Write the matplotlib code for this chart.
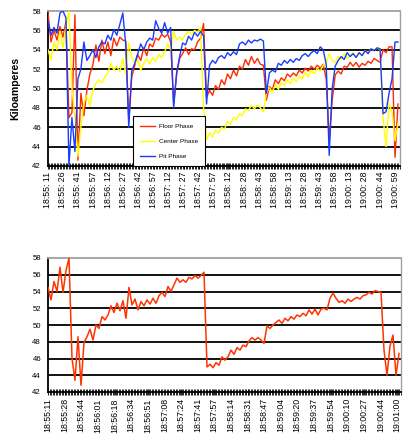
import numpy as np
import matplotlib
matplotlib.use("Agg")
import matplotlib.pyplot as plt
from matplotlib.ticker import MultipleLocator

plt.rcParams["font.family"] = ["Liberation Sans", "DejaVu Sans"]

# samples every 3 s, starting 18:55:11
step = 3

floor_phase = [57.8, 54.8, 56.0, 55.0, 56.4, 55.3, 56.9, 47.0, 47.5, 57.6,
               42.6, 49.5, 47.2, 49.8, 51.5, 52.4, 54.5, 52.8, 55.0, 53.6,
               54.8, 53.4, 55.2, 54.4, 55.3, 55.0, 54.9, 46.7, 51.2, 52.4,
               53.5, 52.9, 54.2, 53.4, 54.6, 54.3, 55.2, 55.0, 55.6, 55.3,
               55.6, 54.8, 48.4, 51.5, 53.1, 53.6, 54.2, 53.5, 54.1, 54.0,
               54.8, 55.2, 56.7, 49.1, 49.8, 49.3, 50.3, 49.9, 50.9, 50.4,
               51.5, 51.0, 51.9, 51.3, 52.3, 52.0, 53.0, 52.4, 53.3, 52.6,
               53.1, 52.5, 52.4, 48.8, 50.2, 49.9, 50.9, 50.5, 51.1, 50.8,
               51.5, 51.2, 51.6, 51.3, 51.9, 51.6, 52.1, 51.8, 52.3, 52.0,
               52.4, 52.1, 52.5, 51.0, 44.7, 48.8, 51.4, 51.8, 51.5, 52.3,
               52.2, 52.7, 52.3, 52.7, 52.2, 52.6, 52.4, 52.8, 52.6, 53.1,
               52.9, 52.7, 54.0, 53.7, 54.3, 54.3, 42.9, 48.4]

center_phase = [54.0, 52.9, 54.8, 54.0, 55.9, 54.2, 56.4, 58.0, 50.0, 47.0,
                43.0, 46.0, 48.5, 49.3, 48.2, 49.8, 50.5, 50.9, 50.6, 51.2,
                51.6, 52.6, 51.9, 52.3, 51.7, 53.1, 51.5, 54.7, 53.2, 52.6,
                52.9, 51.9, 52.6, 53.1, 52.5, 53.2, 52.8, 53.5, 53.2, 53.8,
                54.6, 54.0, 55.9, 55.0, 55.3, 55.0, 55.6, 55.9, 55.6, 56.0,
                55.8, 56.3, 48.0, 44.7, 45.4, 45.0, 45.7, 45.4, 46.0, 45.8,
                46.6, 46.3, 47.0, 46.8, 47.4, 47.2, 47.9, 47.7, 48.3, 47.9,
                48.3, 48.0, 47.6, 49.5, 50.1, 49.6, 50.4, 49.9, 50.6, 50.3,
                50.9, 50.5, 51.1, 50.7, 51.3, 51.0, 51.7, 51.2, 51.9, 51.5,
                52.1, 51.8, 52.4, 52.6, 53.6, 52.9, 52.7, 53.3, 53.0, 53.6,
                53.1, 53.4, 53.7, 53.2, 53.6, 53.4, 53.9, 53.7, 54.1, 53.9,
                54.2, 54.0, 47.0, 44.0, 48.5, 47.6, 44.6, 46.4]

pit_phase = [57.0, 55.5, 56.3, 55.7, 57.8, 58.0, 57.3, 42.0, 47.0, 43.5,
             51.0, 52.0, 54.8, 52.9, 53.4, 54.0, 53.2, 54.3, 54.8, 54.6,
             55.5, 55.0, 56.1, 55.5, 56.6, 57.8, 54.5, 46.0, 51.8, 52.6,
             53.6, 54.6, 54.0, 54.8, 55.2, 55.0, 57.0, 56.2, 55.7, 56.8,
             55.7, 56.3, 48.0, 51.6, 53.3, 54.7, 54.5, 55.4, 55.0, 55.8,
             55.4, 55.9, 55.4, 48.4, 52.4, 52.9, 52.6, 53.2, 53.4, 53.1,
             53.7, 53.4, 53.8, 53.5, 54.6, 54.8, 54.5, 55.0, 54.7, 55.0,
             54.9, 55.1, 54.9, 49.5, 51.6, 51.9, 51.7, 52.6, 52.4, 52.9,
             52.6, 53.0, 52.7, 53.1, 52.9, 53.4, 53.6, 53.3, 53.7, 53.9,
             53.6, 54.3, 54.0, 52.5, 43.1, 50.0, 52.3, 52.9, 53.3, 53.0,
             53.7, 53.3, 53.6, 53.2, 53.7, 53.4, 53.9, 53.6, 54.1, 53.9,
             54.2, 54.1, 47.4, 47.6, 49.5, 51.0, 54.8, 54.8]

lower_series = [54.5, 53.0, 55.2, 54.0, 56.9, 53.9, 56.5, 58.0, 46.0, 43.4,
                48.6, 42.8, 47.9, 48.6, 49.5, 48.2, 50.0, 49.6, 51.0, 50.6,
                51.2, 52.3, 51.5, 52.6, 51.7, 52.9, 50.8, 54.5, 52.4, 53.1,
                51.8, 52.8, 52.3, 53.0, 52.5, 53.2, 52.6, 53.5, 53.9, 53.4,
                54.6, 54.0, 54.8, 55.6, 55.1, 55.4, 55.1, 55.7, 55.5, 55.9,
                55.6, 55.9, 56.3, 45.0, 45.3, 44.9, 45.5, 45.2, 46.2, 45.8,
                46.2, 47.0, 46.5, 47.3, 47.0, 47.6, 47.4, 48.1, 48.5, 48.2,
                48.5, 48.2, 47.8, 49.9, 49.6, 50.0, 50.3, 50.6, 50.2, 50.8,
                50.5, 51.0, 50.7, 51.2, 51.0, 51.4, 51.1, 51.8, 51.3, 51.9,
                51.2, 51.9, 52.0, 51.8, 53.2, 53.8, 53.2, 52.7, 52.9, 52.6,
                53.1, 52.8, 53.1, 53.3, 53.1, 53.5, 53.6, 53.9, 53.7, 54.1,
                54.0, 53.9, 47.0, 44.0, 47.5, 48.8, 44.0, 46.6]

top_labels = ["18:55:11", "18:55:26", "18:55:41", "18:55:57", "18:56:12",
              "18:56:27", "18:56:42", "18:56:57", "18:57:12", "18:57:27",
              "18:57:42", "18:57:57", "18:58:12", "18:58:28", "18:58:43",
              "18:58:58", "18:59:13", "18:59:28", "18:59:43", "18:59:58",
              "19:00:13", "19:00:28", "19:00:44", "19:00:59"]

bottom_labels = ["18:55:11", "18:55:28", "18:55:44", "18:56:01", "18:56:18",
                 "18:56:34", "18:56:51", "18:57:08", "18:57:24", "18:57:41",
                 "18:57:57", "18:58:14", "18:58:31", "18:58:47", "18:59:04",
                 "18:59:20", "18:59:37", "18:59:54", "19:00:10", "19:00:27",
                 "19:00:44", "19:01:00"]

y_ticks = list(range(42, 59, 2))


def secs(label):
    h, m, s = [int(p) for p in label.split(":")]
    return h * 3600 + m * 60 + s


def style_axes(ax, labels, tick_fmt, tick_len):
    t0 = secs(labels[0])
    pos = [secs(l) - t0 for l in labels]
    ax.set_xticks(pos)
    ax.set_xticklabels([tick_fmt(l) for l in labels], rotation=90, fontsize=6.3)
    ax.xaxis.set_minor_locator(MultipleLocator(1.5))
    ax.tick_params(axis="x", which="both", direction="inout", length=tick_len,
                   width=0.6, color="black", pad=2)
    ax.set_xlim(0, 353)
    ax.set_ylim(42, 58)
    ax.set_yticks(y_ticks)
    ax.tick_params(axis="y", length=0, labelsize=5.6, pad=5)
    for v in y_ticks[1:-1]:
        ax.axhline(v, color="black", lw=1.3, zorder=1)
    ax.spines["left"].set_color("black")
    ax.spines["left"].set_linewidth(1.3)
    ax.spines["bottom"].set_color("black")
    ax.spines["bottom"].set_linewidth(1.3)
    ax.spines["top"].set_color("#a0a0a0")
    ax.spines["top"].set_linewidth(1.3)
    ax.spines["right"].set_color("#a0a0a0")
    ax.spines["right"].set_linewidth(1.0)


fig = plt.figure(figsize=(4.04, 4.41), dpi=100)

# ---------------- top chart ----------------
ax1 = fig.add_axes([48 / 404, 1 - 166 / 441, 352 / 404, 155 / 441])
ax1.plot(np.arange(len(floor_phase)) * step, floor_phase, color="#ff2a00", lw=1.0, label="Floor Phase", zorder=3)
ax1.plot(np.arange(len(center_phase)) * step, center_phase, color="#ffff00", lw=1.0, label="Center Phase", zorder=3)
ax1.plot(np.arange(len(pit_phase)) * step, pit_phase, color="#1a3cff", lw=1.0, label="Pit Phase", zorder=3)
style_axes(ax1, top_labels, lambda l: l[:6] + " " + l[6:], 4)
ax1.set_ylabel("Kiloamperes", fontsize=7.6, fontweight="bold", labelpad=9)

leg = ax1.legend(loc="lower left", bbox_to_anchor=((133 - 48) / 352, 0.0),
                 fontsize=4.6, frameon=True, fancybox=False, framealpha=1,
                 edgecolor="black", borderpad=1.1, labelspacing=1.5,
                 handlelength=2.4, handletextpad=0.5, borderaxespad=0)
leg.get_frame().set_linewidth(0.8)
leg.set_zorder(5)

# ---------------- bottom chart ----------------
ax2 = fig.add_axes([48 / 404, 1 - 392 / 441, 353 / 404, 134 / 441])
ax2.plot(np.arange(len(lower_series)) * step, lower_series, color="#ff3300", lw=1.1, zorder=3)
style_axes(ax2, bottom_labels, lambda l: l, 5)

fig.savefig("out.png", dpi=100)
